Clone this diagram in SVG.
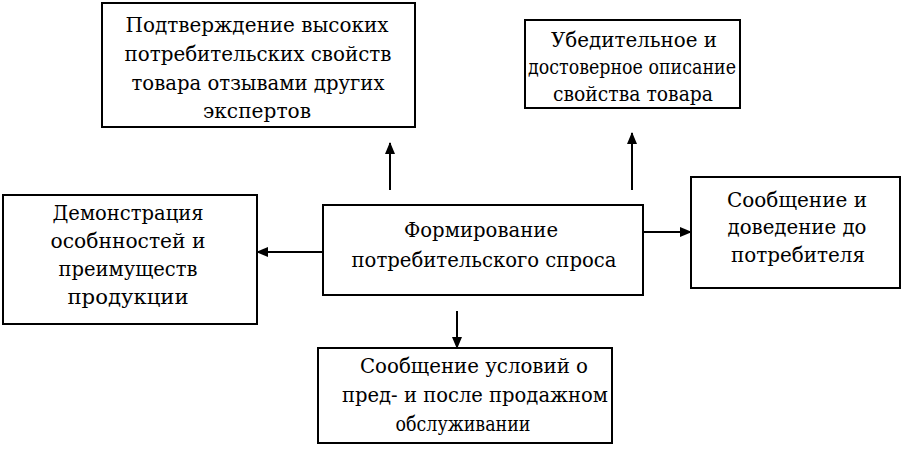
<svg xmlns="http://www.w3.org/2000/svg" width="904" height="453" viewBox="0 0 904 453">
<style>
rect.box{fill:#fff;stroke:#000;stroke-width:2}
text{font-family:'DejaVu Serif','Liberation Serif',serif;font-size:20px;fill:#000;text-anchor:middle}
.conn line{stroke:#000;stroke-width:2}
</style>
<defs>
<marker id="ah" markerWidth="12" markerHeight="10" refX="11" refY="5" orient="auto" markerUnits="userSpaceOnUse">
<path d="M0,0 L12,5 L0,10 Z" fill="#000"/>
</marker>
</defs>
<rect width="904" height="453" fill="#fff"/>
<g id="n-confirm">
<rect class="box" x="102" y="3" width="313" height="124"/>
<text x="257" y="32" textLength="263" lengthAdjust="spacingAndGlyphs">Подтверждение высоких</text>
<text x="258" y="61" textLength="267" lengthAdjust="spacingAndGlyphs">потребительских свойств</text>
<text x="258" y="90" textLength="253" lengthAdjust="spacingAndGlyphs">товара отзывами других</text>
<text x="257" y="118" textLength="108" lengthAdjust="spacingAndGlyphs">экспертов</text>
</g>
<g id="n-describe">
<rect class="box" x="525" y="20" width="215" height="88"/>
<text x="634" y="47" textLength="166" lengthAdjust="spacingAndGlyphs">Убедительное и</text>
<text x="632" y="74" textLength="208" lengthAdjust="spacingAndGlyphs">достоверное описание</text>
<text x="633" y="101" textLength="160" lengthAdjust="spacingAndGlyphs">свойства товара</text>
</g>
<g id="n-deliver">
<rect class="box" x="691" y="177" width="209" height="111"/>
<text x="797" y="207" textLength="140" lengthAdjust="spacingAndGlyphs">Сообщение и</text>
<text x="797" y="234" textLength="139" lengthAdjust="spacingAndGlyphs">доведение до</text>
<text x="798" y="262" textLength="134" lengthAdjust="spacingAndGlyphs">потребителя</text>
</g>
<g id="n-demo">
<rect class="box" x="3" y="195" width="254" height="129"/>
<text x="128" y="220" textLength="151" lengthAdjust="spacingAndGlyphs">Демонстрация</text>
<text x="128" y="248" textLength="155" lengthAdjust="spacingAndGlyphs">особнностей и</text>
<text x="128" y="276" textLength="139" lengthAdjust="spacingAndGlyphs">преимуществ</text>
<text x="128" y="304" textLength="121" lengthAdjust="spacingAndGlyphs">продукции</text>
</g>
<g id="n-center">
<rect class="box" x="323" y="205" width="320" height="90"/>
<text x="481" y="237" textLength="154" lengthAdjust="spacingAndGlyphs">Формирование</text>
<text x="484" y="267" textLength="265" lengthAdjust="spacingAndGlyphs">потребительского спроса</text>
</g>
<g id="n-service">
<rect class="box" x="318" y="348" width="294" height="95"/>
<text x="474" y="373" textLength="228" lengthAdjust="spacingAndGlyphs">Сообщение условий о</text>
<text x="475" y="402" textLength="266" lengthAdjust="spacingAndGlyphs">пред- и после продажном</text>
<text x="463" y="431" textLength="135" lengthAdjust="spacingAndGlyphs">обслуживании</text>
</g>
<g class="conn" id="connectors">
<line x1="390" y1="190" x2="390" y2="143" marker-end="url(#ah)"/>
<line x1="632" y1="190" x2="632" y2="133" marker-end="url(#ah)"/>
<line x1="323" y1="252" x2="257" y2="252" marker-end="url(#ah)"/>
<line x1="643" y1="232" x2="691" y2="232" marker-end="url(#ah)"/>
<line x1="457" y1="311" x2="457" y2="348" marker-end="url(#ah)"/>
</g>
</svg>
